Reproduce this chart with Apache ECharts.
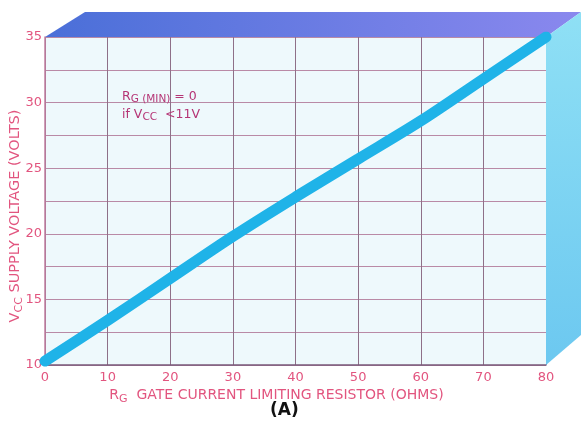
<!DOCTYPE html>
<html>
<head>
<meta charset="utf-8">
<script src="https://cdn.jsdelivr.net/npm/echarts@6/dist/echarts.min.js"></script>
<style>
  html, body { margin: 0; padding: 0; background: #ffffff; }
  #main { width: 581px; height: 423px; }
</style>
</head>
<body>
<div id="main"></div>
<script>
// values
var resistance = [0, 10, 20, 30, 40, 50, 60, 70, 80];
var supplyVolts = [10.3, 13.4, 16.6, 19.8, 22.8, 25.7, 28.6, 31.8, 35];
var xTicks = [0, 10, 20, 30, 40, 50, 60, 70, 80];
var yTicks = [10, 15, 20, 25, 30, 35];

var pink = '#e2557f';
var gridCol = '#b98aa6';

var myChart = echarts.init(document.getElementById('main'));

var points = resistance.map(function (r, i) { return [r, supplyVolts[i]]; });

myChart.setOption({
    animation: false,
    grid: {
        left: 45, right: 35, top: 37, bottom: 58,
        outerBoundsMode: 'none', containLabel: false,
        show: true, backgroundColor: '#eef9fc', borderWidth: 0
    },
    xAxis: {
        type: 'value', min: 0, max: 80, interval: 10,
        name: '{n|R}{s|G}{n|  GATE CURRENT LIMITING RESISTOR (OHMS)}',
        nameLocation: 'middle', nameGap: 20, nameMoveOverlap: false,
        nameTextStyle: {
            padding: [0, 38, 0, 0],
            rich: {
                n: { color: pink, fontSize: 14, fontFamily: 'DejaVu Sans' },
                s: { color: pink, fontSize: 11, fontFamily: 'DejaVu Sans', padding: [9, 0, 0, 0] }
            }
        },
        axisLine: { show: true, lineStyle: { color: '#7a5a7a', width: 1.5 } },
        axisTick: { show: false },
        axisLabel: {
            color: pink, fontSize: 13, fontFamily: 'DejaVu Sans', margin: 6,
            formatter: function (v) { return xTicks.indexOf(v) >= 0 ? String(v) : ''; }
        },
        splitLine: { show: true, lineStyle: { color: '#8e7088', width: 1 } }
    },
    yAxis: {
        type: 'value', min: 10, max: 35, interval: 2.5,
        name: '{n|V}{s|CC}{n| SUPPLY VOLTAGE (VOLTS)}',
        nameLocation: 'middle', nameGap: 20, nameMoveOverlap: false,
        nameTextStyle: {
            padding: [0, 30, 0, 0],
            rich: {
                n: { color: pink, fontSize: 14.5, fontFamily: 'DejaVu Sans' },
                s: { color: pink, fontSize: 11, fontFamily: 'DejaVu Sans', padding: [9, 0, 0, 0] }
            }
        },
        axisLine: { show: true, lineStyle: { color: '#c07ea0', width: 1.5 } },
        axisTick: { show: false },
        axisLabel: {
            color: pink, fontSize: 13, fontFamily: 'DejaVu Sans', margin: 3,
            formatter: function (v) { return yTicks.indexOf(v) >= 0 ? String(v) : ''; }
        },
        splitLine: { show: true, lineStyle: { color: gridCol, width: 1 } }
    },
    series: [{
        type: 'line',
        data: points,
        smooth: 0.3,
        symbol: 'none',
        lineStyle: { color: '#1fb3e8', width: 11, cap: 'round' },
        z: 5
    }]
});

// 3D box faces at top and right, placed from the axis scale
var tl = myChart.convertToPixel({ gridIndex: 0 }, [0, 35]);
var tr = myChart.convertToPixel({ gridIndex: 0 }, [80, 35]);
var br = myChart.convertToPixel({ gridIndex: 0 }, [80, 10]);
var dx = 35, dy = -25;

myChart.setOption({
    graphic: [
        {
            type: 'polygon', z: 1,
            shape: { points: [[tl[0], tl[1]], [tl[0] + 40, tl[1] + dy], [tr[0] + dx, tr[1] + dy], [tr[0], tr[1]]] },
            style: {
                fill: new echarts.graphic.LinearGradient(0, 0, 1, 0, [
                    { offset: 0, color: '#4a6fd8' },
                    { offset: 1, color: '#8a88ee' }
                ])
            }
        },
        {
            type: 'polygon', z: 1,
            shape: { points: [[tr[0], tr[1]], [tr[0] + dx, tr[1] + dy], [br[0] + dx, br[1] - 30], [br[0], br[1]]] },
            style: {
                fill: new echarts.graphic.LinearGradient(0, 0, 0, 1, [
                    { offset: 0, color: '#8fe0f5' },
                    { offset: 1, color: '#6cc8f0' }
                ])
            }
        },
        {
            type: 'text', left: 122, top: 88, z: 10,
            style: {
                text: '{n|R}{s|G (MIN)}{n| = 0}\n{n|if V}{s|CC}{n|  <11V}',
                rich: {
                    n: { fill: '#b53575', fontSize: 12.5, fontFamily: 'DejaVu Sans', lineHeight: 18 },
                    s: { fill: '#b53575', fontSize: 10.5, fontFamily: 'DejaVu Sans', padding: [6, 0, 0, 0], lineHeight: 18 }
                }
            }
        },
        {
            type: 'text', left: 270, top: 402, z: 10,
            style: { text: '(A)', fill: '#111111', fontSize: 17, fontWeight: 'bold', fontFamily: 'DejaVu Sans' }
        }
    ]
});
</script>
</body>
</html>
